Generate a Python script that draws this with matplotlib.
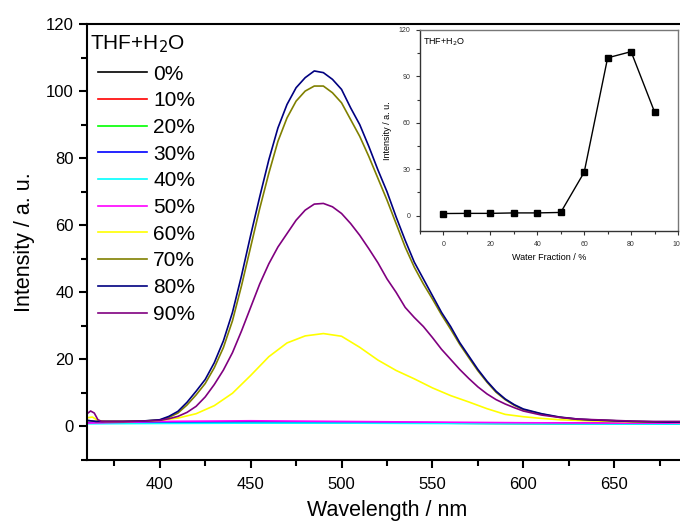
import matplotlib
matplotlib.use("Agg")
import matplotlib.pyplot as plt
from matplotlib.ticker import MultipleLocator

plt.rcParams['font.family'] = ['Liberation Sans', 'DejaVu Sans']

# ---------------- data ----------------
labels = ['0%', '10%', '20%', '30%', '40%', '50%', '60%', '70%', '80%', '90%']
colors = ['#000000', '#ff0000', '#00ff00', '#0000ff', '#00ffff', '#ff00ff',
          '#ffff00', '#808000', '#000080', '#800080']

wl_flat = [360, 400, 450, 500, 550, 600, 650, 690]
i_0 = [1.0, 1.1, 1.2, 1.1, 1.0, 0.9, 0.8, 0.8]
i_10 = [1.0, 1.2, 1.3, 1.2, 1.1, 1.0, 0.9, 0.9]
i_20 = [1.0, 1.1, 1.2, 1.2, 1.0, 0.9, 0.9, 0.8]
i_30 = [1.1, 1.2, 1.3, 1.2, 1.1, 1.0, 0.9, 0.9]
i_40 = [0.8, 0.9, 1.0, 1.0, 0.9, 0.8, 0.7, 0.7]
i_50 = [1.0, 1.5, 1.7, 1.5, 1.3, 1.1, 1.0, 1.0]

wl_60 = [360, 363, 366, 370, 380, 390, 400, 410, 420, 430, 440, 450, 460, 470,
         480, 490, 500, 510, 520, 530, 540, 550, 560, 570, 580, 590, 600, 610,
         620, 640, 660, 690]
i_60 = [2.6, 2.8, 1.8, 1.5, 1.5, 1.6, 1.8, 2.5, 3.8, 6.2, 9.9, 15.2, 20.8, 24.9,
        27.0, 27.7, 26.9, 23.6, 19.8, 16.7, 14.2, 11.5, 9.2, 7.3, 5.3, 3.6, 2.9, 2.4,
        2.0, 1.6, 1.4, 1.2]

wl_main = [360, 365, 370, 380, 390, 400, 405, 410, 415, 420, 425, 430, 435, 440,
           445, 450, 455, 460, 465, 470, 475, 480, 485, 490, 495, 500, 505, 510,
           515, 520, 525, 530, 535, 540, 545, 550, 555, 560, 565, 570, 575, 580,
           585, 590, 595, 600, 610, 620, 630, 640, 650, 660, 670, 680, 690]
i_70 = [1.8, 1.5, 1.5, 1.5, 1.6, 1.9, 2.7, 4.0, 6.4, 9.4, 12.8, 17.5, 23.5, 31.5,
        42.0, 53.5, 65.0, 75.5, 85.0, 92.0, 97.0, 100.0, 101.5, 101.5, 99.5, 96.5,
        91.5, 86.5, 80.5, 74.0, 67.5, 60.5, 53.5, 47.5, 42.5, 38.0, 33.3, 29.0,
        24.5, 20.5, 16.6, 13.2, 10.2, 8.0, 6.3, 5.0, 3.7, 2.7, 2.1, 1.9, 1.7, 1.5,
        1.4, 1.3, 1.3]
i_80 = [1.8, 1.5, 1.5, 1.5, 1.6, 2.0, 3.0, 4.5, 7.2, 10.5, 14.0, 19.0, 25.5, 34.0,
        45.0, 57.0, 68.5, 79.5, 89.0, 96.0, 101.0, 104.0, 106.0, 105.5, 103.5, 100.5,
        95.0, 90.0, 83.5, 76.5, 70.0, 62.5, 55.5, 49.0, 44.0, 39.0, 34.0, 29.8,
        25.0, 21.0, 17.0, 13.5, 10.5, 8.2, 6.5, 5.2, 3.8, 2.8, 2.2, 1.9, 1.7, 1.5,
        1.4, 1.3, 1.3]

wl_90 = [360, 362, 364, 366, 368, 370, 380, 390, 400, 405, 410, 415, 420, 425,
         430, 435, 440, 445, 450, 455, 460, 465, 470, 475, 480, 485, 490, 495, 500,
         505, 510, 515, 520, 525, 530, 535, 540, 545, 550, 555, 560, 565, 570, 575,
         580, 585, 590, 595, 600, 610, 620, 630, 640, 650, 660, 670, 680, 690]
i_90 = [3.8, 4.6, 4.0, 2.0, 1.5, 1.5, 1.5, 1.6, 1.8, 2.3, 3.0, 4.2, 6.0, 8.8,
        12.5, 16.8, 22.0, 28.5, 35.5, 42.5, 48.5, 53.5, 57.5, 61.5, 64.5, 66.3,
        66.5, 65.5, 63.5, 60.5, 57.0, 53.0, 48.8, 44.0, 40.0, 35.5, 32.5, 29.8,
        26.5, 23.0, 20.0, 17.0, 14.3, 11.8, 9.7, 8.0, 6.7, 5.6, 4.6, 3.4, 2.7, 2.2,
        2.0, 1.8, 1.6, 1.5, 1.5, 1.5]

water_fraction = [0, 10, 20, 30, 40, 50, 60, 70, 80, 90]
peak_intensity = [1.3, 1.4, 1.4, 1.7, 1.7, 2.0, 28.0, 102.0, 106.0, 67.0]

series = [(wl_flat, i_0), (wl_flat, i_10), (wl_flat, i_20), (wl_flat, i_30),
          (wl_flat, i_40), (wl_flat, i_50), (wl_60, i_60), (wl_main, i_70),
          (wl_main, i_80), (wl_90, i_90)]

# ---------------- figure ----------------
W, H = 680, 527
fig = plt.figure(figsize=(W / 100, H / 100), dpi=100)
ax = fig.add_axes([87 / W, 1 - 460 / H, 600 / W, (460 - 24) / H])

for (x, y), lab, c in zip(series, labels, colors):
    ax.plot(x, y, color=c, lw=1.2, label=lab)

ax.set_xlim(360, 690)
ax.set_ylim(-10, 120)
ax.xaxis.set_major_locator(MultipleLocator(50))
ax.xaxis.set_minor_locator(MultipleLocator(25))
ax.yaxis.set_major_locator(MultipleLocator(20))
ax.yaxis.set_minor_locator(MultipleLocator(10))
ax.tick_params(which='both', direction='out', width=1.5, labelsize=12, top=False, right=False)
ax.tick_params(which='major', length=6)
ax.tick_params(which='minor', length=4)
ax.tick_params(axis='x', pad=6)
for s in ['left', 'bottom', 'top']:
    ax.spines[s].set_linewidth(1.5)
ax.spines['right'].set_visible(False)
ax.set_xlabel('Wavelength / nm', fontsize=15.5, labelpad=6)
ax.set_ylabel('Intensity / a. u.', fontsize=15.5, labelpad=8)

fig.text(90 / W, 1 - 49.5 / H, 'THF+H$_2$O', fontsize=15, ha='left', va='baseline')
leg = ax.legend(loc='upper left', bbox_to_anchor=(98 / W, 1 - 64.5 / H),
                bbox_transform=fig.transFigure, frameon=False,
                fontsize=15, handlelength=2.35, handletextpad=0.3,
                labelspacing=0.37, borderaxespad=0, borderpad=0)

# ---------------- inset ----------------
ins = fig.add_axes([420 / W, 1 - 231 / H, 258 / W, (231 - 30) / H])
ins.plot(water_fraction, peak_intensity, color='black', lw=1.0,
         marker='s', markersize=4.5)
ins.set_xlim(-10, 100)
ins.set_ylim(-10, 120)
ins.xaxis.set_major_locator(MultipleLocator(20))
ins.xaxis.set_minor_locator(MultipleLocator(10))
ins.yaxis.set_major_locator(MultipleLocator(30))
ins.yaxis.set_minor_locator(MultipleLocator(15))
ins.tick_params(which='both', direction='out', width=0.8, labelsize=5, colors='#333333',
                top=False, right=False, pad=4)
ins.tick_params(which='major', length=3)
ins.tick_params(which='minor', length=2)
for s in ['left', 'bottom']:
    ins.spines[s].set_linewidth(1.0)
    ins.spines[s].set_color('#333333')
for s in ['top', 'right']:
    ins.spines[s].set_linewidth(1.0)
    ins.spines[s].set_color('#777777')
ins.set_xlabel('Water Fraction / %', fontsize=6.5, labelpad=4)
ins.set_ylabel('Intensity / a. u.', fontsize=6.5, labelpad=5)
ins.text(0.01, 0.97, 'THF+H$_2$O', transform=ins.transAxes, fontsize=6.5,
         ha='left', va='top')

fig.savefig('out.png', dpi=100)
